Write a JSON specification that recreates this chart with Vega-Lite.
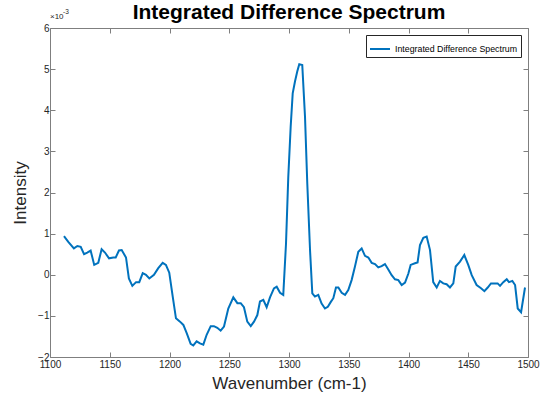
{
  "$schema": "https://vega.github.io/schema/vega-lite/v6.json",
  "width": 478,
  "height": 329,
  "autosize": "none",
  "padding": {"left": 50, "top": 28, "right": 21, "bottom": 48},
  "title": {"text": "Integrated Difference Spectrum", "font": "Liberation Sans", "fontSize": 21, "fontWeight": "bold", "color": "#000000", "anchor": "middle", "frame": "group", "baseline": "alphabetic", "offset": 7, "dy": 38},
  "config": {"view": {"stroke": null}, "font": "Liberation Sans"},
  "data": {"values": [
    {"wavenumber": 1111.7, "intensity": 0.94}, {"wavenumber": 1115.3, "intensity": 0.80}, {"wavenumber": 1120.0, "intensity": 0.64},
    {"wavenumber": 1122.9, "intensity": 0.70}, {"wavenumber": 1125.7, "intensity": 0.68}, {"wavenumber": 1128.5, "intensity": 0.50},
    {"wavenumber": 1131.2, "intensity": 0.54}, {"wavenumber": 1134.0, "intensity": 0.59}, {"wavenumber": 1137.0, "intensity": 0.24},
    {"wavenumber": 1140.4, "intensity": 0.29}, {"wavenumber": 1143.2, "intensity": 0.62}, {"wavenumber": 1146.0, "intensity": 0.54},
    {"wavenumber": 1149.4, "intensity": 0.40}, {"wavenumber": 1153.0, "intensity": 0.42}, {"wavenumber": 1155.0, "intensity": 0.42},
    {"wavenumber": 1157.7, "intensity": 0.59}, {"wavenumber": 1160.0, "intensity": 0.60}, {"wavenumber": 1163.6, "intensity": 0.42},
    {"wavenumber": 1166.0, "intensity": -0.09}, {"wavenumber": 1168.9, "intensity": -0.27}, {"wavenumber": 1172.0, "intensity": -0.18},
    {"wavenumber": 1174.7, "intensity": -0.18}, {"wavenumber": 1177.6, "intensity": 0.04}, {"wavenumber": 1180.3, "intensity": 0.00},
    {"wavenumber": 1183.1, "intensity": -0.09}, {"wavenumber": 1187.0, "intensity": 0.00}, {"wavenumber": 1190.6, "intensity": 0.16},
    {"wavenumber": 1194.3, "intensity": 0.29}, {"wavenumber": 1197.0, "intensity": 0.24}, {"wavenumber": 1199.8, "intensity": 0.05},
    {"wavenumber": 1202.7, "intensity": -0.53}, {"wavenumber": 1205.4, "intensity": -1.06}, {"wavenumber": 1208.8, "intensity": -1.14},
    {"wavenumber": 1211.6, "intensity": -1.22}, {"wavenumber": 1214.4, "intensity": -1.42}, {"wavenumber": 1217.7, "intensity": -1.68},
    {"wavenumber": 1219.9, "intensity": -1.72}, {"wavenumber": 1222.7, "intensity": -1.62}, {"wavenumber": 1225.5, "intensity": -1.67},
    {"wavenumber": 1228.3, "intensity": -1.70}, {"wavenumber": 1231.1, "intensity": -1.46}, {"wavenumber": 1234.5, "intensity": -1.25},
    {"wavenumber": 1237.2, "intensity": -1.25}, {"wavenumber": 1240.0, "intensity": -1.29}, {"wavenumber": 1242.8, "intensity": -1.36},
    {"wavenumber": 1245.6, "intensity": -1.26}, {"wavenumber": 1249.2, "intensity": -0.82}, {"wavenumber": 1253.4, "intensity": -0.55},
    {"wavenumber": 1256.8, "intensity": -0.69}, {"wavenumber": 1259.6, "intensity": -0.69}, {"wavenumber": 1262.3, "intensity": -0.79},
    {"wavenumber": 1265.1, "intensity": -1.14}, {"wavenumber": 1268.0, "intensity": -1.25}, {"wavenumber": 1270.7, "intensity": -1.14},
    {"wavenumber": 1273.5, "intensity": -0.98}, {"wavenumber": 1275.7, "intensity": -0.65}, {"wavenumber": 1278.5, "intensity": -0.61},
    {"wavenumber": 1281.3, "intensity": -0.79}, {"wavenumber": 1284.1, "intensity": -0.55}, {"wavenumber": 1287.4, "intensity": -0.33},
    {"wavenumber": 1289.7, "intensity": -0.29}, {"wavenumber": 1292.5, "intensity": -0.44}, {"wavenumber": 1295.2, "intensity": -0.49},
    {"wavenumber": 1297.5, "intensity": 0.76}, {"wavenumber": 1299.4, "intensity": 2.38}, {"wavenumber": 1301.4, "intensity": 3.60},
    {"wavenumber": 1303.1, "intensity": 4.41}, {"wavenumber": 1305.0, "intensity": 4.70}, {"wavenumber": 1306.9, "intensity": 4.94},
    {"wavenumber": 1308.6, "intensity": 5.12}, {"wavenumber": 1311.1, "intensity": 5.10}, {"wavenumber": 1313.4, "intensity": 3.84},
    {"wavenumber": 1315.3, "intensity": 2.22}, {"wavenumber": 1317.6, "intensity": 0.60}, {"wavenumber": 1319.5, "intensity": -0.45},
    {"wavenumber": 1321.7, "intensity": -0.53}, {"wavenumber": 1324.5, "intensity": -0.49}, {"wavenumber": 1327.3, "intensity": -0.70},
    {"wavenumber": 1330.1, "intensity": -0.82}, {"wavenumber": 1332.5, "intensity": -0.78}, {"wavenumber": 1335.0, "intensity": -0.66},
    {"wavenumber": 1337.1, "intensity": -0.57}, {"wavenumber": 1339.3, "intensity": -0.31}, {"wavenumber": 1341.3, "intensity": -0.31},
    {"wavenumber": 1344.1, "intensity": -0.44}, {"wavenumber": 1346.9, "intensity": -0.49}, {"wavenumber": 1349.6, "intensity": -0.37},
    {"wavenumber": 1352.4, "intensity": -0.13}, {"wavenumber": 1355.2, "intensity": 0.20}, {"wavenumber": 1358.0, "intensity": 0.56},
    {"wavenumber": 1360.8, "intensity": 0.64}, {"wavenumber": 1363.6, "intensity": 0.46}, {"wavenumber": 1366.4, "intensity": 0.42},
    {"wavenumber": 1369.2, "intensity": 0.29}, {"wavenumber": 1372.0, "intensity": 0.26}, {"wavenumber": 1374.7, "intensity": 0.18},
    {"wavenumber": 1377.5, "intensity": 0.21}, {"wavenumber": 1380.3, "intensity": 0.26}, {"wavenumber": 1383.1, "intensity": 0.13},
    {"wavenumber": 1385.9, "intensity": -0.01}, {"wavenumber": 1388.7, "intensity": -0.11}, {"wavenumber": 1391.5, "intensity": -0.13},
    {"wavenumber": 1394.3, "intensity": -0.25}, {"wavenumber": 1397.1, "intensity": -0.19}, {"wavenumber": 1399.9, "intensity": 0.03},
    {"wavenumber": 1401.8, "intensity": 0.24}, {"wavenumber": 1405.4, "intensity": 0.28}, {"wavenumber": 1407.6, "intensity": 0.30},
    {"wavenumber": 1409.6, "intensity": 0.72}, {"wavenumber": 1412.4, "intensity": 0.90}, {"wavenumber": 1415.2, "intensity": 0.93},
    {"wavenumber": 1418.0, "intensity": 0.60}, {"wavenumber": 1420.7, "intensity": -0.18}, {"wavenumber": 1423.6, "intensity": -0.31},
    {"wavenumber": 1426.3, "intensity": -0.15}, {"wavenumber": 1429.1, "intensity": -0.21}, {"wavenumber": 1431.9, "intensity": -0.23},
    {"wavenumber": 1434.7, "intensity": -0.31}, {"wavenumber": 1437.5, "intensity": -0.21}, {"wavenumber": 1439.5, "intensity": 0.20},
    {"wavenumber": 1443.1, "intensity": 0.32}, {"wavenumber": 1446.7, "intensity": 0.48}, {"wavenumber": 1450.0, "intensity": 0.24},
    {"wavenumber": 1452.9, "intensity": -0.01}, {"wavenumber": 1457.0, "intensity": -0.25}, {"wavenumber": 1460.7, "intensity": -0.33},
    {"wavenumber": 1463.5, "intensity": -0.40}, {"wavenumber": 1466.3, "intensity": -0.31}, {"wavenumber": 1469.0, "intensity": -0.21},
    {"wavenumber": 1471.8, "intensity": -0.21}, {"wavenumber": 1474.6, "intensity": -0.21}, {"wavenumber": 1476.6, "intensity": -0.27},
    {"wavenumber": 1479.3, "intensity": -0.18}, {"wavenumber": 1482.2, "intensity": -0.11}, {"wavenumber": 1484.1, "intensity": -0.18},
    {"wavenumber": 1486.9, "intensity": -0.15}, {"wavenumber": 1489.2, "intensity": -0.25}, {"wavenumber": 1491.4, "intensity": -0.82},
    {"wavenumber": 1494.2, "intensity": -0.91}, {"wavenumber": 1497.5, "intensity": -0.31}
  ]},
  "layer": [
    {
      "mark": {"type": "line", "strokeWidth": 2, "clip": true},
      "encoding": {
        "x": {"field": "wavenumber", "type": "quantitative",
          "scale": {"domain": [1100, 1500], "nice": false, "zero": false},
          "axis": {"orient": "bottom", "values": [1100, 1150, 1200, 1250, 1300, 1350, 1400, 1450, 1500], "format": "d",
            "grid": false, "tickSize": -5, "labelPadding": 7, "labelFontSize": 10, "labelColor": "#262626",
            "domainColor": "#7f7f7f", "tickColor": "#7f7f7f", "labelFlush": false,
            "title": "Wavenumber (cm-1)", "titleFontSize": 17, "titleFontWeight": "normal", "titleColor": "#262626", "titlePadding": 6}},
        "y": {"field": "intensity", "type": "quantitative",
          "scale": {"domain": [-2, 6], "nice": false, "zero": false},
          "axis": {"orient": "left", "values": [-2, -1, 0, 1, 2, 3, 4, 5, 6], "format": "d",
            "grid": false, "tickSize": -5, "labelPadding": 6, "labelFontSize": 10, "labelColor": "#262626",
            "domainColor": "#7f7f7f", "tickColor": "#7f7f7f", "labelFlush": false,
            "title": "Intensity", "titleFontSize": 17, "titleFontWeight": "normal", "titleColor": "#262626", "titlePadding": 8}},
        "color": {"datum": "Integrated Difference Spectrum", "type": "nominal",
          "scale": {"range": ["#0072BD"]},
          "legend": {"orient": "top-right", "offset": 7, "title": null, "symbolType": "stroke", "symbolStrokeWidth": 2,
            "symbolSize": 400, "labelFontSize": 8.8, "labelFont": "Liberation Sans", "labelColor": "#000000",
            "strokeColor": "#262626", "fillColor": "#ffffff", "padding": 3, "labelOffset": 4, "cornerRadius": 0}}
      }
    },
    {
      "mark": {"type": "line", "opacity": 0},
      "encoding": {
        "x": {"field": "wavenumber", "type": "quantitative",
          "scale": {"domain": [1100, 1500], "nice": false, "zero": false},
          "axis": {"orient": "top", "values": [1100, 1150, 1200, 1250, 1300, 1350, 1400, 1450, 1500], "labels": false,
            "grid": false, "tickSize": -5, "domainColor": "#7f7f7f", "tickColor": "#7f7f7f", "title": null}},
        "y": {"field": "intensity", "type": "quantitative",
          "scale": {"domain": [-2, 6], "nice": false, "zero": false},
          "axis": {"orient": "right", "values": [-2, -1, 0, 1, 2, 3, 4, 5, 6], "labels": false,
            "grid": false, "tickSize": -5, "domainColor": "#7f7f7f", "tickColor": "#7f7f7f", "title": null}}
      }
    },
    {
      "data": {"values": [{"wavenumber": 1100, "intensity": 6, "label": "×10"}]},
      "mark": {"type": "text", "align": "left", "baseline": "alphabetic", "dx": 0, "dy": -9, "fontSize": 8, "color": "#262626"},
      "encoding": {
        "x": {"field": "wavenumber", "type": "quantitative", "axis": null},
        "y": {"field": "intensity", "type": "quantitative", "axis": null},
        "text": {"field": "label"}
      }
    },
    {
      "data": {"values": [{"wavenumber": 1100, "intensity": 6, "label": "-3"}]},
      "mark": {"type": "text", "align": "left", "baseline": "alphabetic", "dx": 13, "dy": -14, "fontSize": 6.5, "color": "#262626"},
      "encoding": {
        "x": {"field": "wavenumber", "type": "quantitative", "axis": null},
        "y": {"field": "intensity", "type": "quantitative", "axis": null},
        "text": {"field": "label"}
      }
    }
  ],
  "resolve": {"axis": {"x": "independent", "y": "independent"}}
}
